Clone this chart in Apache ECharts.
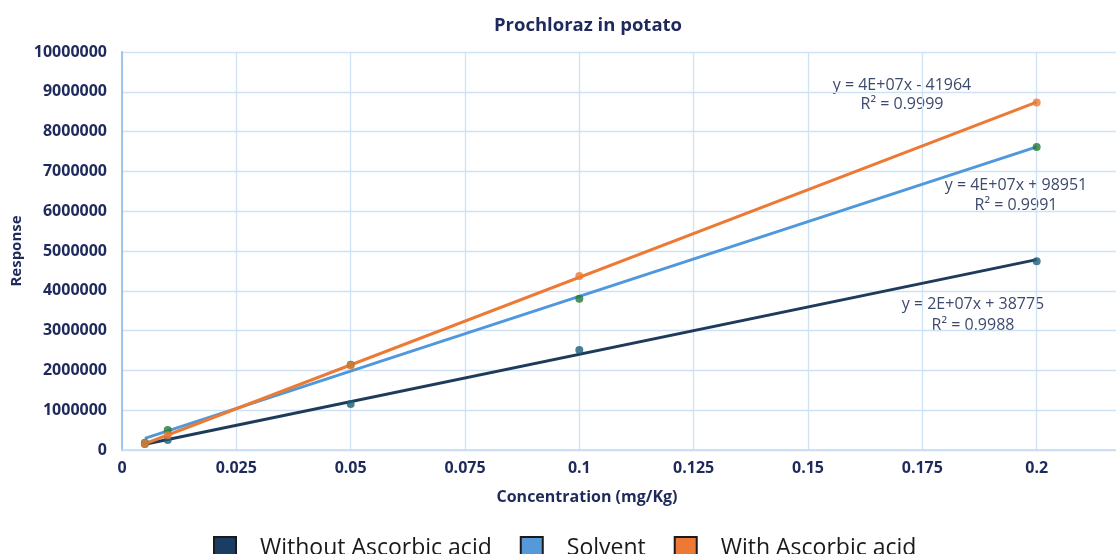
<!DOCTYPE html>
<html><head><meta charset="utf-8">
<script src="https://cdn.jsdelivr.net/npm/echarts@6/dist/echarts.min.js"></script>
<style>html,body{margin:0;padding:0;background:#fff}#c{width:1116px;height:554px}</style>
</head><body><div id="c"></div>
<script>
var concentrations = [0.005, 0.01, 0.05, 0.1, 0.2];
var withoutAscorbic = [150000, 250000, 1157000, 2510000, 4745000];
var solvent = [180000, 500000, 2140000, 3800000, 7610000];
var withAscorbic = [160000, 370000, 2120000, 4375000, 8730000];
var seriesNames = ['Without Ascorbic acid', 'Solvent', 'With Ascorbic acid'];
var equationTexts = [
  ['y = 2E+07x + 38775', 'R\u00b2 = 0.9988'],
  ['y = 4E+07x + 98951', 'R\u00b2 = 0.9991'],
  ['y = 4E+07x - 41964', 'R\u00b2 = 0.9999']
];

function fit(xs, ys) {
  var n = xs.length, sx = 0, sy = 0, sxx = 0, sxy = 0;
  for (var i = 0; i < n; i++) { sx += xs[i]; sy += ys[i]; sxx += xs[i]*xs[i]; sxy += xs[i]*ys[i]; }
  var b = (n*sxy - sx*sy) / (n*sxx - sx*sx);
  var a = (sy - b*sx) / n;
  var x0 = Math.min.apply(null, xs), x1 = Math.max.apply(null, xs);
  return [[x0, a + b*x0], [x1, a + b*x1]];
}
function pts(ys) { return concentrations.map(function (x, i) { return [x, ys[i]]; }); }

var lineColors = ['#1f3b5c', '#4f98dc', '#ec7a35'];
var dotColors = ['#1b5f79', '#237a35', '#ec7a35'];
var legendColors = ['#1b3d62', '#5599da', '#ec7a35'];
var allData = [withoutAscorbic, solvent, withAscorbic];

var series = [];
allData.forEach(function (d, i) {
  series.push({
    name: seriesNames[i], type: 'line', data: fit(concentrations, d),
    showSymbol: false, symbol: 'none', silent: true, z: 2,
    lineStyle: { color: lineColors[i], width: 3 },
    itemStyle: { color: legendColors[i], borderColor: '#1a1a1a', borderWidth: 1.5 }
  });
});
allData.forEach(function (d, i) {
  series.push({
    name: seriesNames[i] + ' pts', type: 'scatter', data: pts(d),
    symbolSize: 8, z: 3, itemStyle: { color: dotColors[i] }
  });
});

var eqPos = [[973, 304, 325], [1016, 185, 205], [902, 85, 104]];
var graphics = [];
equationTexts.forEach(function (t, i) {
  graphics.push({ type: 'text', x: eqPos[i][0], y: eqPos[i][1], style: { text: t[0], textAlign: 'center', textVerticalAlign: 'middle', fontFamily: 'Open Sans', fontSize: 16, fill: '#3d4a6e' } });
  graphics.push({ type: 'text', x: eqPos[i][0], y: eqPos[i][2], style: { text: t[1], textAlign: 'center', textVerticalAlign: 'middle', fontFamily: 'Open Sans', fontSize: 16, fill: '#3d4a6e' } });
});
graphics.push({ type: 'text', x: 587, y: 497, style: { text: 'Concentration (mg/Kg)', textAlign: 'center', textVerticalAlign: 'middle', fontFamily: 'Open Sans', fontWeight: 'bold', fontSize: 16, fill: '#1f2a5c' } });
graphics.push({ type: 'text', x: 17, y: 251, rotation: Math.PI/2, style: { text: 'Response', textAlign: 'center', textVerticalAlign: 'middle', fontFamily: 'Open Sans', fontWeight: 'bold', fontSize: 15, fill: '#1f2a5c' } });

var chart = echarts.init(document.getElementById('c'), null, { renderer: 'canvas' });
chart.setOption({
  animation: false,
  backgroundColor: '#fff',
  title: { text: 'Prochloraz in potato', left: 583, top: 11, textAlign: 'center',
    textStyle: { fontFamily: 'Open Sans', fontWeight: 'bold', fontSize: 18.5, color: '#1f2a5c' } },
  grid: { left: 122, top: 52, bottom: 104, right: -35, containLabel: false, outerBoundsMode: 'none' },
  xAxis: { type: 'value', min: 0, max: 0.225, interval: 0.025,
    axisLine: { show: true, lineStyle: { color: '#c5dcf2', width: 1.5 } },
    axisTick: { show: false },
    splitLine: { show: true, lineStyle: { color: '#cfe2f5', width: 1.3 } },
    axisLabel: { margin: 10, fontFamily: 'Open Sans', fontWeight: 'bold', fontSize: 16, color: '#1f2a5c' } },
  yAxis: { type: 'value', min: 0, max: 10000000, interval: 1000000,
    axisLine: { show: true, lineStyle: { color: '#9fc5ea', width: 2 } },
    axisTick: { show: false },
    splitLine: { show: true, lineStyle: { color: '#cfe2f5', width: 1.3 } },
    axisLabel: { margin: 15, fontFamily: 'Open Sans', fontWeight: 'bold', fontSize: 16, color: '#1f2a5c',
      formatter: function (v) { return String(v); } } },
  legend: { data: seriesNames, left: 208, top: 531, itemWidth: 22, itemHeight: 22, itemGap: 28,
    icon: 'rect',
    textStyle: { fontFamily: 'Open Sans', fontSize: 23, color: '#1a1a1a', padding: [0, 0, 0, 19] } },
  series: series,
  graphic: graphics
});
</script></body></html>
